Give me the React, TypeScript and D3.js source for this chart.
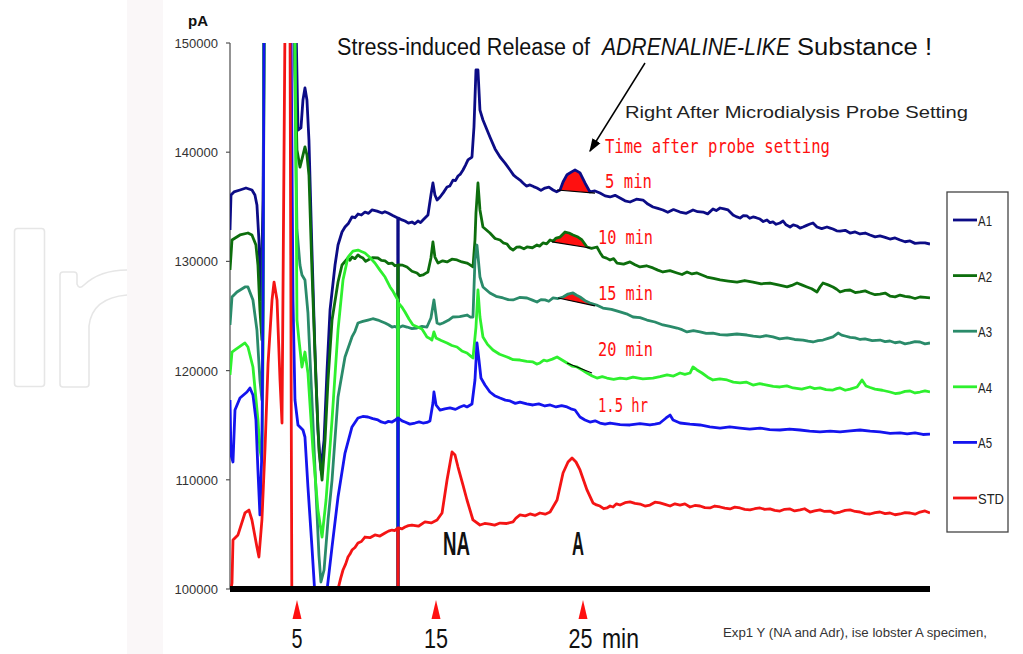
import React from 'react';
import * as d3 from 'd3';

type Pt = [number, number];

const seriesNames = ['A1', 'A2', 'A3', 'A4', 'A5', 'STD'];
const seriesColors = ['#0c0c86', '#0d6e0d', '#2a8b6a', '#2ef02e', '#1414ee', '#f41414'];

const yTickValues = [100000, 110000, 120000, 130000, 140000, 150000];
const timeMarks = [5, 15, 25];
const timeMarkLabels = ['5', '15', '25'];
const peakLabels = ['5 min', '10 min', '15 min', '20 min', '1.5 hr'];

const A1: Pt[] = [
  [0.58, 132880], [0.65, 136080], [0.86, 136360], [1.28, 136540], [1.70, 136720], [2.12, 136540], [2.33, 136080],
  [2.47, 135170], [2.61, 131960], [2.75, 126470], [2.90, 135620], [2.97, 152000], [5.21, 152000], [5.35, 142030],
  [5.56, 142220], [5.70, 144780], [5.84, 145880], [5.98, 144780], [6.12, 141120], [6.33, 131040], [6.54, 121890],
  [6.75, 114560], [6.96, 110900], [7.18, 113640], [7.39, 120060], [7.60, 125550], [7.95, 129670], [8.16, 131500],
  [8.44, 132690], [8.65, 133150], [8.90, 133500], [9.14, 134070], [9.35, 134000], [9.56, 134340], [9.80, 134250],
  [10.05, 134520], [10.30, 134400], [10.54, 134710], [10.90, 134600], [11.25, 134430], [11.45, 134550], [11.67, 134430],
  [12.00, 134200], [12.35, 133970], [12.37, 95000], [12.39, 133970], [12.65, 133800], [12.86, 133700], [13.10, 133500],
  [13.35, 133610], [13.55, 133450], [13.77, 133700], [13.95, 133550], [14.12, 133790], [14.47, 134250], [14.68, 136080],
  [14.82, 137180], [14.96, 136080], [15.11, 135620], [15.32, 135900], [15.55, 136300], [15.81, 136810], [16.00, 136900],
  [16.23, 137450], [16.40, 137400], [16.58, 137820], [16.75, 138000], [16.93, 138370], [17.10, 138800], [17.28, 139290],
  [17.56, 139560], [17.70, 142310], [17.84, 147530], [17.98, 147530], [18.12, 143860], [18.33, 142950], [18.82, 141390],
  [19.18, 140300], [19.53, 139560], [19.88, 139000], [20.23, 138370], [20.48, 137900], [20.72, 137640], [20.93, 137450],
  [21.14, 137180], [21.38, 136900], [21.63, 137000], [21.88, 136850], [22.12, 136720], [22.40, 136500], [22.68, 136720],
  [22.96, 136800], [23.25, 136540], [23.50, 136380], [23.74, 136540], [23.95, 137270], [24.23, 137940], [24.58, 138220],
  [24.79, 138370], [25.00, 138220], [25.14, 138100], [25.49, 137180], [25.84, 136360], [26.19, 136450], [26.54, 136260],
  [26.90, 136000], [27.25, 135900], [27.60, 136050], [27.95, 135810], [28.30, 135550], [28.65, 135440], [29.10, 135700],
  [29.56, 135620], [29.90, 135250], [30.26, 134980], [30.60, 134850], [30.96, 134710], [31.30, 134500], [31.70, 134750],
  [32.16, 134520], [32.60, 134400], [33.07, 134710], [33.40, 134550], [33.77, 134520], [34.10, 134350], [34.47, 134800],
  [34.70, 134650], [34.97, 134890], [35.25, 134800], [35.53, 134710], [35.88, 134250], [36.10, 134100], [36.37, 133970],
  [36.60, 134200], [36.86, 134160], [37.05, 133950], [37.28, 134070], [37.50, 134000], [37.77, 133880], [38.00, 133650],
  [38.26, 133790], [38.47, 133550], [38.68, 133610], [38.90, 133400], [39.17, 133520], [39.39, 133700], [39.60, 133350],
  [39.88, 133150], [40.10, 133350], [40.37, 133240], [40.58, 133050], [40.79, 133150], [41.05, 133300], [41.28, 133420],
  [41.49, 133520], [41.77, 133150], [42.10, 133000], [42.47, 133150], [42.70, 133050], [42.89, 132970], [43.15, 132800],
  [43.39, 132780], [43.75, 132850], [44.09, 132600], [44.45, 132700], [44.79, 132510], [45.15, 132600], [45.49, 132420],
  [45.85, 132250], [46.19, 132330], [46.55, 132200], [46.89, 132050], [47.25, 132150], [47.60, 131960], [47.95, 131800],
  [48.30, 131870], [48.65, 131650], [49.00, 131690], [49.35, 131700], [49.70, 131590],
];

const A2: Pt[] = [
  [0.58, 129210], [0.72, 131960], [1.28, 132420], [1.84, 132600], [2.12, 132420], [2.40, 131500], [2.54, 129670],
  [2.68, 125550], [2.82, 122800], [2.90, 131040], [2.97, 152000], [5.07, 152000], [5.28, 140200], [5.49, 138640],
  [5.70, 139740], [5.84, 140480], [5.98, 139740], [6.12, 137910], [6.33, 129210], [6.61, 119140], [6.82, 112730],
  [7.04, 109980], [7.25, 113640], [7.46, 119140], [7.74, 124630], [8.16, 128110], [8.44, 129670], [8.86, 130310],
  [9.00, 130100], [9.14, 130400], [9.35, 130250], [9.56, 130590], [9.75, 130400], [9.91, 130310], [10.10, 130000],
  [10.26, 130130], [10.60, 130350], [10.96, 130310], [11.20, 130100], [11.46, 130040], [11.70, 129800], [11.95, 129850],
  [12.15, 129600], [12.35, 129670], [12.37, 95000], [12.39, 129670], [12.70, 129650], [13.00, 129490], [13.35, 129100],
  [13.70, 128940], [13.90, 128700], [14.12, 128760], [14.30, 128900], [14.47, 129030], [14.68, 130310], [14.82, 131780],
  [14.96, 130400], [15.18, 129850], [15.50, 130050], [15.81, 129950], [16.15, 130200], [16.51, 130130], [16.85, 129950],
  [17.21, 129850], [17.40, 129700], [17.63, 129490], [17.77, 131960], [17.84, 134430], [17.98, 137180], [18.12, 134710],
  [18.33, 133150], [18.82, 132600], [19.18, 132100], [19.53, 131960], [19.75, 131700], [20.02, 131590], [20.25, 131200],
  [20.44, 131040], [20.70, 131300], [20.93, 131320], [21.20, 131150], [21.42, 131320], [21.80, 131250], [22.12, 131500],
  [22.30, 131400], [22.54, 131690], [22.80, 131600], [23.04, 131960], [23.25, 131850], [23.46, 132140], [23.74, 132230],
  [24.09, 132690], [24.37, 132600], [24.65, 132420], [25.00, 132230], [25.28, 131960], [25.63, 131320], [25.95, 131200],
  [26.33, 131320], [26.55, 130800], [26.75, 130400], [27.00, 130300], [27.25, 130130], [27.50, 130250], [27.74, 129850],
  [28.20, 129750], [28.65, 129950], [29.00, 129700], [29.35, 129490], [29.80, 129600], [30.26, 129400], [30.60, 129200],
  [30.96, 129030], [31.45, 129150], [31.95, 128940], [32.30, 128800], [32.65, 129030], [33.00, 128850], [33.35, 128940],
  [33.70, 128750], [34.05, 128570], [34.50, 128450], [34.97, 128300], [35.55, 128200], [36.16, 128110], [36.70, 128250],
  [37.28, 128110], [37.85, 127950], [38.47, 128020], [39.05, 127850], [39.67, 127660], [40.00, 127800], [40.37, 128020],
  [40.70, 127850], [41.07, 127660], [41.40, 127500], [41.77, 127200], [42.00, 127700], [42.19, 128020], [42.55, 127850],
  [42.89, 127660], [43.15, 127450], [43.39, 127200], [43.75, 127350], [44.09, 127380], [44.45, 127150], [44.79, 127200],
  [45.15, 127300], [45.49, 127110], [45.85, 126950], [46.19, 127010], [46.55, 127100], [46.89, 126830], [47.25, 126750],
  [47.60, 126920], [47.95, 126800], [48.30, 126740], [48.65, 126600], [49.00, 126740], [49.35, 126700], [49.70, 126650],
];

const A3: Pt[] = [
  [0.58, 124180], [0.72, 126740], [1.07, 127200], [1.63, 127660], [1.84, 127660], [2.19, 126470], [2.47, 123720],
  [2.68, 119140], [2.82, 117310], [2.90, 126470], [2.97, 152000], [5.07, 152000], [5.28, 132880], [5.49, 129670],
  [5.63, 128760], [5.84, 128300], [6.05, 125280], [6.33, 117310], [6.61, 109070], [6.82, 103110], [6.96, 100640],
  [7.18, 101740], [7.46, 106320], [7.74, 109980], [8.16, 117580], [8.65, 121250], [9.14, 123080], [9.35, 123600],
  [9.56, 124360], [9.90, 124500], [10.26, 124630], [10.60, 124750], [10.96, 124630], [11.20, 124500], [11.46, 124360],
  [11.70, 124200], [11.95, 123990], [12.15, 124050], [12.35, 123900], [12.37, 95000], [12.39, 123900], [12.70, 124100],
  [13.00, 123990], [13.35, 123850], [13.70, 123900], [14.05, 124050], [14.40, 123990], [14.68, 124820], [14.89, 126470],
  [15.11, 124360], [15.30, 124250], [15.53, 124360], [15.90, 124600], [16.23, 124910], [16.70, 124950], [17.21, 125090],
  [17.45, 124900], [17.63, 124910], [17.77, 130130], [17.91, 131500], [18.12, 128570], [18.33, 127660], [18.82, 127110],
  [19.25, 126800], [19.74, 126650], [20.10, 126500], [20.44, 126470], [20.90, 126700], [21.42, 126650], [21.80, 126450],
  [22.12, 126280], [22.40, 126500], [22.68, 126470], [22.95, 126350], [23.25, 126650], [23.60, 126600], [23.95, 126740],
  [24.30, 127010], [24.65, 127110], [24.90, 126900], [25.14, 126740], [25.50, 126400], [25.84, 126190], [26.30, 126000],
  [26.75, 125730], [27.35, 125600], [27.95, 125370], [28.40, 125200], [28.86, 124910], [29.35, 124850], [29.84, 124630],
  [30.40, 124450], [30.96, 124180], [31.45, 124050], [31.95, 123900], [32.30, 123750], [32.65, 123540], [33.10, 123650],
  [33.56, 123540], [34.00, 123400], [34.47, 123440], [34.95, 123300], [35.46, 123260], [36.15, 123350], [36.86, 123260],
  [37.30, 123150], [37.77, 123080], [38.20, 123200], [38.68, 123080], [39.15, 122900], [39.67, 122990], [40.20, 122850],
  [40.79, 122800], [41.15, 122700], [41.49, 122620], [41.85, 122750], [42.19, 122800], [42.55, 122950], [42.89, 123080],
  [43.25, 123440], [43.50, 123250], [43.74, 123170], [44.10, 123050], [44.44, 122990], [44.80, 122850], [45.14, 122900],
  [45.65, 122750], [46.19, 122800], [46.55, 122650], [46.89, 122710], [47.25, 122550], [47.60, 122620], [47.95, 122450],
  [48.30, 122530], [48.65, 122650], [49.00, 122620], [49.35, 122450], [49.70, 122530],
];

const A4: Pt[] = [
  [0.58, 119600], [0.72, 121700], [0.93, 121890], [1.63, 122530], [1.84, 122160], [2.19, 120330], [2.54, 115480],
  [2.68, 112730], [2.82, 111810], [2.90, 121890], [2.97, 152000], [5.14, 152000], [5.28, 124630], [5.42, 122800],
  [5.63, 120330], [5.84, 121700], [6.05, 119780], [6.40, 112730], [6.75, 107230], [7.04, 104760], [7.32, 108150],
  [7.74, 115480], [8.16, 123720], [8.51, 128300], [8.86, 130400], [9.21, 130950], [9.56, 131040], [9.80, 130900],
  [10.05, 130770], [10.40, 130350], [10.75, 129850], [11.10, 129200], [11.46, 128570], [11.81, 127660], [12.00, 127300],
  [12.16, 126920], [12.35, 126470], [12.37, 95000], [12.39, 126190], [12.65, 125800], [12.86, 125370], [13.15, 124700],
  [13.42, 124180], [13.75, 124000], [14.05, 123810], [14.25, 123400], [14.40, 123080], [14.60, 122950], [14.75, 122800],
  [14.89, 123540], [15.04, 122990], [15.40, 122750], [15.81, 122530], [16.15, 122300], [16.51, 122160], [16.85, 121800],
  [17.21, 121610], [17.45, 121350], [17.63, 121150], [17.84, 123990], [17.98, 127380], [18.12, 124910], [18.33, 123080],
  [18.65, 122400], [19.03, 121890], [19.50, 121500], [20.02, 121250], [20.45, 121000], [20.93, 120970], [21.40, 120850],
  [21.84, 120790], [22.10, 120600], [22.33, 120700], [22.60, 120950], [22.82, 120880], [23.20, 121050], [23.53, 121250],
  [23.88, 120970], [24.23, 120700], [24.58, 120420], [24.93, 120330], [25.30, 120050], [25.63, 119780], [26.00, 119500],
  [26.33, 119320], [26.70, 119450], [27.03, 119320], [27.50, 119200], [27.95, 119320], [28.40, 119250], [28.86, 119410],
  [29.55, 119250], [30.26, 119320], [30.75, 119450], [31.25, 119600], [31.70, 119500], [32.16, 119780], [32.50, 119650],
  [32.86, 119780], [33.07, 120330], [33.35, 120060], [33.70, 119780], [34.10, 119400], [34.47, 119140], [34.95, 119250],
  [35.46, 119140], [35.90, 118950], [36.37, 118870], [36.80, 118950], [37.28, 118680], [37.75, 118800], [38.26, 118680],
  [38.70, 118550], [39.17, 118500], [39.65, 118600], [40.10, 118410], [40.70, 118300], [41.28, 118500], [41.60, 118350],
  [41.98, 118410], [42.40, 118250], [42.89, 118220], [43.15, 118350], [43.39, 118410], [43.75, 118200], [44.09, 118310],
  [44.58, 118500], [44.93, 119140], [45.21, 118590], [45.50, 118450], [45.84, 118310], [46.35, 118200], [46.89, 118040],
  [47.25, 117900], [47.60, 117950], [47.95, 118100], [48.30, 118130], [48.65, 117950], [49.00, 118040], [49.35, 118150],
  [49.70, 118040],
];

const A5: Pt[] = [
  [0.58, 117310], [0.65, 112270], [0.79, 111630], [0.93, 116390], [1.28, 117490], [1.77, 118040], [1.98, 118410],
  [2.19, 117770], [2.40, 115480], [2.54, 110900], [2.68, 106780], [2.82, 112730], [2.90, 126470], [2.97, 152000],
  [4.86, 152000], [5.00, 126470], [5.14, 117310], [5.35, 115020], [5.49, 114840], [5.70, 114560], [5.84, 113920],
  [6.05, 109340], [6.33, 103850], [6.54, 99450], [6.89, 96700], [7.25, 97160], [7.39, 99910], [7.74, 103850],
  [8.16, 108420], [8.65, 112450], [9.14, 114840], [9.56, 115660], [9.90, 115800], [10.26, 115750], [10.60, 115600],
  [10.96, 115480], [11.20, 115300], [11.46, 115200], [11.70, 115350], [11.95, 115290], [12.15, 115450], [12.35, 115660],
  [12.37, 95000], [12.39, 115660], [12.65, 115400], [12.86, 115290], [13.20, 115100], [13.56, 115200], [13.85, 115300],
  [14.12, 115200], [14.40, 115250], [14.61, 115380], [14.82, 117030], [14.89, 118040], [15.04, 116850], [15.32, 116390],
  [15.65, 116500], [16.02, 116580], [16.40, 116450], [16.72, 116670], [17.00, 116800], [17.21, 116670], [17.56, 116940],
  [17.77, 119140], [17.91, 122530], [18.05, 120970], [18.19, 119320], [18.47, 118680], [18.82, 118040], [19.15, 117700],
  [19.53, 117490], [19.90, 117300], [20.23, 117220], [20.60, 117000], [20.93, 117120], [21.40, 116950], [21.84, 116850],
  [22.25, 116950], [22.68, 116760], [23.05, 116850], [23.46, 116670], [23.85, 116800], [24.23, 116670], [24.50, 116500],
  [24.79, 116390], [25.14, 115750], [25.49, 115480], [25.84, 115290], [26.20, 115400], [26.54, 115200], [26.90, 115100],
  [27.25, 115200], [27.95, 115050], [28.65, 115020], [29.35, 115150], [30.05, 115020], [30.40, 115100], [30.75, 115200],
  [31.18, 115660], [31.46, 115930], [31.67, 115480], [32.16, 115200], [32.85, 115100], [33.56, 115020], [34.25, 114850],
  [34.97, 114740], [35.65, 114850], [36.37, 114740], [37.05, 114650], [37.77, 114740], [38.45, 114600], [39.17, 114560],
  [39.85, 114650], [40.58, 114560], [41.25, 114450], [41.98, 114380], [42.70, 114450], [43.39, 114380], [44.10, 114480],
  [44.79, 114560], [45.50, 114450], [46.19, 114380], [46.90, 114250], [47.60, 114290], [48.10, 114200], [48.65, 114290],
  [49.20, 114150], [49.70, 114190],
];

const STD: Pt[] = [
  [0.58, 99450], [0.72, 100550], [0.79, 104490], [1.14, 104950], [1.63, 106960], [1.91, 107230], [2.12, 106320],
  [2.47, 103850], [2.61, 102930], [2.82, 106320], [3.04, 112940], [3.25, 120640], [3.53, 126470], [3.67, 128110],
  [3.88, 126470], [4.09, 119140], [4.23, 115200], [4.44, 152000], [4.79, 152000], [4.93, 95000], [8.02, 95000],
  [8.16, 100000], [8.35, 101000], [8.51, 101740], [8.70, 102300], [8.86, 102930], [9.00, 103200], [9.14, 103570],
  [9.35, 103800], [9.56, 104210], [9.80, 104350], [10.05, 104760], [10.40, 104700], [10.75, 104950], [11.10, 104850],
  [11.46, 105130], [11.70, 105300], [11.95, 105400], [12.15, 105350], [12.35, 105590], [12.37, 95000], [12.39, 105590],
  [12.65, 105500], [12.86, 105680], [13.10, 105800], [13.35, 105860], [13.80, 105750], [14.26, 106140], [14.70, 106050],
  [15.11, 106320], [15.46, 106960], [15.81, 109980], [16.16, 112550], [16.37, 112270], [16.58, 111170], [16.93, 109520],
  [17.21, 108150], [17.63, 106320], [18.12, 105860], [18.45, 106000], [18.82, 105950], [19.15, 105850], [19.53, 106040],
  [20.00, 106000], [20.44, 106140], [20.65, 106500], [20.93, 106780], [21.30, 106700], [21.63, 106870], [22.00, 106750],
  [22.33, 106960], [22.70, 106850], [23.04, 107050], [23.53, 108150], [23.95, 110620], [24.30, 111630], [24.58, 112000],
  [24.86, 111630], [25.14, 110900], [25.63, 109070], [26.05, 107880], [26.30, 107700], [26.54, 107600], [26.80, 107350],
  [27.03, 107420], [27.25, 107600], [27.46, 107510], [27.70, 107800], [27.95, 107690], [28.30, 107900], [28.65, 107970],
  [29.00, 107850], [29.35, 107780], [29.70, 107600], [30.05, 107690], [30.40, 107950], [30.75, 107880], [31.10, 107750],
  [31.46, 107600], [31.80, 107800], [32.16, 107690], [32.50, 107800], [32.86, 107510], [33.20, 107650], [33.56, 107600],
  [33.90, 107450], [34.26, 107420], [34.60, 107600], [34.97, 107510], [35.30, 107400], [35.67, 107330], [36.00, 107500],
  [36.37, 107420], [36.70, 107300], [37.07, 107240], [37.40, 107350], [37.77, 107420], [38.10, 107300], [38.47, 107330],
  [38.80, 107200], [39.17, 107140], [39.50, 107300], [39.88, 107330], [40.20, 107150], [40.58, 107240], [40.90, 107350],
  [41.28, 107050], [41.60, 107150], [41.98, 107240], [42.30, 107100], [42.68, 107140], [43.00, 106950], [43.39, 107050],
  [43.75, 107200], [44.09, 107240], [44.45, 107100], [44.79, 107050], [45.15, 106900], [45.49, 106870], [45.85, 107000],
  [46.19, 107050], [46.55, 106900], [46.89, 106960], [47.25, 106800], [47.60, 106870], [47.95, 107000], [48.30, 106960],
  [48.65, 106850], [49.00, 107050], [49.35, 107150], [49.70, 106960],
];

// highlighted (red) peak areas: series index, baseline start and end
const peakSeries = [0, 1, 2, 3];
const peakStart: Pt[] = [[23.53, 136540], [23.18, 131780], [23.60, 126650], [24.23, 120700]];
const peakEnd: Pt[] = [[26.19, 136260], [25.84, 131230], [26.19, 125920], [25.98, 119780]];

const SANS = '"Liberation Sans", Arial, sans-serif';
const MONO = '"DejaVu Sans Mono", "Liberation Mono", monospace';

export default function App() {
  const W = 1023;
  const H = 654;
  const x = d3.scaleLinear().domain([0.58, 49.7]).range([230, 930]);
  const y = d3.scaleLinear().domain([100000, 150000]).range([589, 43]);
  const markX = d3.scaleLinear().domain([5, 15, 25]).range([297, 436, 583]);
  const line = d3.line<Pt>().x((d) => x(d[0])).y((d) => y(d[1]));
  const data = [A1, A2, A3, A4, A5, STD];

  const peaks = peakSeries.map((si, i) => {
    const [t0, v0] = peakStart[i];
    const [t1, v1] = peakEnd[i];
    const base = d3.scaleLinear().domain([t0, t1]).range([v0, v1]);
    const pts: Pt[] = [[t0, v0], ...data[si].filter((d) => d[0] > t0 && d[0] < t1), [t1, v1]];
    const area = d3
      .area<Pt>()
      .x((d) => x(d[0]))
      .y0((d) => y(base(d[0])))
      .y1((d) => y(Math.max(d[1], base(d[0]))));
    return { d: area(pts) || '', x0: x(t0), y0: y(v0), x1: x(t1), y1: y(v1) };
  });

  const legendY = (i: number) => 220 + i * 55.6;

  return (
    <svg
      width={W}
      height={H}
      viewBox={`0 0 ${W} ${H}`}
      style={{ position: 'absolute', left: 0, top: 0, background: '#fff' }}
    >
      <defs>
        <clipPath id="plot">
          <rect x={230} y={43} width={700} height={546} />
        </clipPath>
        <marker id="ah" viewBox="0 0 10 10" refX={9} refY={5} markerWidth={9} markerHeight={9} orient="auto">
          <path d="M0,1.5 L10,5 L0,8.5 Z" fill="#000" />
        </marker>
      </defs>
      <rect x={0} y={0} width={W} height={H} fill="#fff" />

      {/* faint watermark */}
      <g fill="none" stroke="#e6e6e6" strokeWidth={1.6}>
        <rect x={14.5} y={228.5} width={30} height={158} rx={3} />
        <path d="M63,387 H86 Q89,387 89,384 V326 Q92,298 127,295 M127,270 Q100,270 84,285 Q79,290 77,284 V275 Q77,272 74,272 H63 Q60,272 60,275 V384 Q60,387 63,387" />
      </g>
      <rect x={127} y={0} width={36} height={H} fill="#faf7f8" />

      {/* y axis */}
      <line x1={230} x2={230} y1={43} y2={589} stroke="#666" strokeWidth={1.4} />
      {yTickValues.map((v) => (
        <g key={v}>
          <line x1={226} x2={230} y1={y(v)} y2={y(v)} stroke="#555" strokeWidth={1.2} />
          <text x={218} y={y(v) + 5} textAnchor="end" fontFamily={SANS} fontSize={13} fill="#333">
            {v}
          </text>
        </g>
      ))}
      <text x={188} y={26} fontFamily={SANS} fontWeight="bold" fontSize={15} fill="#111">
        pA
      </text>

      {/* traces and highlighted peaks */}
      <g clipPath="url(#plot)">
        {peaks.map((p, i) => (
          <path key={'pk' + i} d={p.d} fill="#ff1010" />
        ))}
        {data.map((s, i) => (
          <path
            key={seriesNames[i]}
            d={line(s) || ''}
            fill="none"
            stroke={seriesColors[i]}
            strokeWidth={2.8}
            strokeLinejoin="round"
          />
        ))}
        {peaks.map((p, i) => (
          <line key={'bl' + i} x1={p.x0} y1={p.y0} x2={p.x1} y2={p.y1} stroke="#000" strokeWidth={1.2} />
        ))}
      </g>

      {/* baseline bar */}
      <rect x={230} y={586} width={700} height={6} fill="#000" />

      {/* time markers */}
      {timeMarks.map((t, i) => (
        <g key={'tm' + t}>
          <path d={`M${markX(t) - 4.5},${619} L${markX(t) + 4.5},${619} L${markX(t)},${600} Z`} fill="#ff1010" />
          <text
            x={markX(t) - (i === 2 ? 2.5 : 0)}
            y={648}
            textAnchor="middle"
            fontFamily={SANS}
            fontSize={28}
            fill="#111"
            textLength={i === 0 ? 11 : 24}
            lengthAdjust="spacingAndGlyphs"
          >
            {timeMarkLabels[i]}
          </text>
        </g>
      ))}
      <text x={602} y={648} fontFamily={SANS} fontSize={28} fill="#111" textLength={37} lengthAdjust="spacingAndGlyphs">
        min
      </text>

      {/* NA / A labels */}
      <text x={443} y={555} fontFamily={SANS} fontWeight="bold" fontSize={33} fill="#111" textLength={27} lengthAdjust="spacingAndGlyphs">
        NA
      </text>
      <text x={572} y={555} fontFamily={SANS} fontWeight="bold" fontSize={33} fill="#111" textLength={12} lengthAdjust="spacingAndGlyphs">
        A
      </text>

      {/* title */}
      <text x={337} y={55} fontFamily={SANS} fontSize={23} fill="#111" textLength={253} lengthAdjust="spacingAndGlyphs">
        Stress-induced Release of
      </text>
      <text x={602} y={55} fontFamily={SANS} fontStyle="italic" fontSize={23} fill="#111" textLength={188} lengthAdjust="spacingAndGlyphs">
        ADRENALINE-LIKE
      </text>
      <text x={797} y={55} fontFamily={SANS} fontSize={23} fill="#111" textLength={135} lengthAdjust="spacingAndGlyphs">
        Substance !
      </text>
      <line x1={645} y1={63} x2={590} y2={151} stroke="#000" strokeWidth={1.5} markerEnd="url(#ah)" />

      <text x={625} y={118} fontFamily={SANS} fontSize={17} fill="#222" textLength={343} lengthAdjust="spacingAndGlyphs">
        Right After Microdialysis Probe Setting
      </text>
      <text x={605} y={153} fontFamily={MONO} fontSize={19} fill="#ff1010" textLength={225} lengthAdjust="spacingAndGlyphs">
        Time after probe setting
      </text>
      {peakLabels.map((s, i) => (
        <text
          key={s}
          x={i === 0 ? 605 : 598}
          y={188 + i * 56}
          fontFamily={MONO}
          fontSize={20}
          fill="#ff1010"
          textLength={i === 0 ? 47 : i === 4 ? 50 : 55}
          lengthAdjust="spacingAndGlyphs"
        >
          {s}
        </text>
      ))}

      {/* legend */}
      <rect x={947} y={192} width={61} height={340} fill="#fff" stroke="#444" strokeWidth={1.3} />
      {seriesNames.map((n, i) => (
        <g key={'lg' + n}>
          <line x1={953} x2={977} y1={legendY(i)} y2={legendY(i)} stroke={seriesColors[i]} strokeWidth={2.8} />
          <text
            x={978}
            y={legendY(i) + 6}
            fontFamily={SANS}
            fontSize={15}
            fill="#222"
            textLength={n === 'STD' ? 26 : 14}
            lengthAdjust="spacingAndGlyphs"
          >
            {n}
          </text>
        </g>
      ))}

      <text x={723} y={637} fontFamily={SANS} fontSize={12} fill="#333" textLength={264} lengthAdjust="spacingAndGlyphs">
        Exp1 Y (NA and Adr),  ise lobster A specimen,
      </text>
    </svg>
  );
}
